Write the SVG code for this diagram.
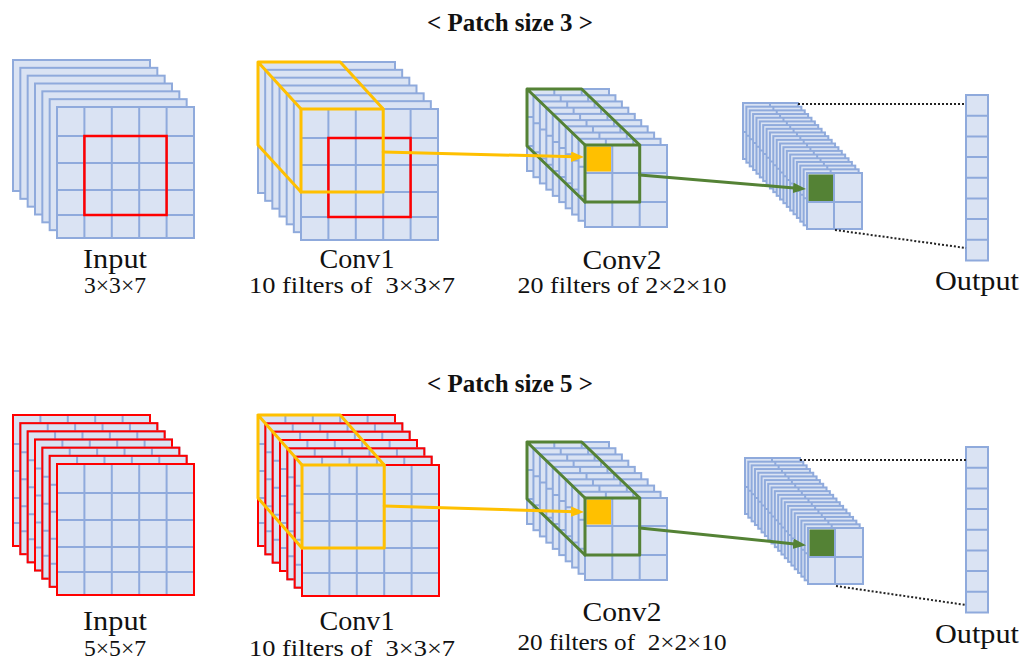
<svg xmlns="http://www.w3.org/2000/svg" width="1024" height="663" viewBox="0 0 1024 663">
<style>
  .cell{fill:#dae3f3;stroke:#8faadc;stroke-width:2}
  .gl{fill:none;stroke:#8faadc;stroke-width:2}
  .rim{fill:none;stroke:#ff0000;stroke-width:2}
  .red{fill:none;stroke:#ff0000;stroke-width:2.5}
  .yel{fill:none;stroke:#ffc000;stroke-width:3;stroke-linejoin:round;stroke-linecap:round}
  .grn{fill:none;stroke:#548235;stroke-width:3;stroke-linejoin:round;stroke-linecap:round}
  .yfill{fill:#ffc000}
  .gfill{fill:#548235}
  .dot{fill:none;stroke:#222;stroke-width:2;stroke-dasharray:2 2}
  text{font-family:"Liberation Serif","Times New Roman",serif;fill:#111;text-anchor:middle}
  .title{font-size:25px;font-weight:bold}
  .name{font-size:28px}
  .dims{font-size:23px}
</style>
<defs>
  <!-- plain feature map slice (5x5 size, no grid) -->
  <g id="s5"><rect class="cell" width="137" height="131"/></g>
  <!-- 5x5 grid slice -->
  <g id="g5">
    <rect class="cell" width="137" height="131"/>
    <path class="gl" d="M27.4,0V131M54.8,0V131M82.2,0V131M109.6,0V131M0,29H137M0,56H137M0,83H137M0,108H137"/>
  </g>
  <!-- 5x5 grid slice with red rim -->
  <g id="g5r">
    <use href="#g5"/>
    <rect class="rim" width="137" height="131"/>
  </g>
  <!-- 3x3 grid slice -->
  <g id="g3">
    <rect class="cell" width="82" height="82"/>
    <path class="gl" d="M27.3,0V82M54.7,0V82M0,28H82M0,57H82"/>
  </g>
  <!-- 2x2 grid slice -->
  <g id="g2">
    <rect class="cell" width="55" height="56"/>
    <path class="gl" d="M27,0V56M0,29H55"/>
  </g>
  <!-- output vector of 8 cells -->
  <g id="col">
    <rect class="cell" width="22" height="165.5"/>
    <path class="gl" d="M0,20.7H22M0,41.4H22M0,62.1H22M0,82.8H22M0,103.4H22M0,124.1H22M0,144.8H22"/>
  </g>
  <marker id="ahY" viewBox="0 0 10 8" refX="3" refY="4" markerWidth="13" markerHeight="10.4" markerUnits="userSpaceOnUse" orient="auto">
    <path d="M0,0L10,4L0,8z" fill="#ffc000"/>
  </marker>
  <marker id="ahG" viewBox="0 0 10 8" refX="3" refY="4" markerWidth="13" markerHeight="10.4" markerUnits="userSpaceOnUse" orient="auto">
    <path d="M0,0L10,4L0,8z" fill="#548235"/>
  </marker>
</defs>

<rect width="1024" height="663" fill="#ffffff"/>

<!-- ===== Patch size 3 ===== -->
<text class="title" x="510" y="31">&lt; Patch size 3 &gt;</text>

<g id="input3">
  <use href="#s5" x="13" y="60"/>
  <use href="#s5" x="20.33" y="67.83"/>
  <use href="#s5" x="27.67" y="75.67"/>
  <use href="#s5" x="35" y="83.5"/>
  <use href="#s5" x="42.33" y="91.33"/>
  <use href="#s5" x="49.67" y="99.17"/>
  <use href="#g5" x="57" y="107"/>
  <rect class="red" x="84.4" y="136" width="82.2" height="79"/>
  <text class="name" x="115" y="268" textLength="64" lengthAdjust="spacingAndGlyphs">Input</text>
  <text class="dims" x="115" y="293" textLength="62" lengthAdjust="spacingAndGlyphs">3×3×7</text>
</g>

<g id="conv1-3">
  <use href="#s5" x="258" y="62"/>
  <use href="#s5" x="265.17" y="69.83"/>
  <use href="#s5" x="272.33" y="77.67"/>
  <use href="#s5" x="279.5" y="85.5"/>
  <use href="#s5" x="286.67" y="93.33"/>
  <use href="#s5" x="293.83" y="101.17"/>
  <use href="#g5" x="301" y="109"/>
  <rect class="red" x="328.4" y="138" width="82.2" height="79"/>
  <path class="yel" d="M258,62H340.2L383.2,109M258,62L301,109M258,62V145L301,192"/>
  <rect class="yel" x="301" y="109" width="82.2" height="83"/>
  <text class="name" x="357" y="268" textLength="75" lengthAdjust="spacingAndGlyphs">Conv1</text>
  <text class="dims" x="352" y="293" textLength="206" lengthAdjust="spacingAndGlyphs">10 filters of &#160;3×3×7</text>
</g>

<g id="conv2-3">
  <use href="#g3" x="527" y="89"/>
  <use href="#g3" x="533.44" y="95.22"/>
  <use href="#g3" x="539.89" y="101.44"/>
  <use href="#g3" x="546.33" y="107.67"/>
  <use href="#g3" x="552.78" y="113.89"/>
  <use href="#g3" x="559.22" y="120.11"/>
  <use href="#g3" x="565.67" y="126.33"/>
  <use href="#g3" x="572.11" y="132.56"/>
  <use href="#g3" x="578.56" y="138.78"/>
  <use href="#g3" x="585" y="145"/>
  <rect class="yfill" x="586.5" y="146.5" width="24.5" height="25"/>
  <path class="grn" d="M527,89H581.7L639.7,145M527,89L585,145M527,89V146L585,202"/>
  <rect class="grn" x="585" y="145" width="54.7" height="57"/>
  <text class="name" x="622" y="269" textLength="79" lengthAdjust="spacingAndGlyphs">Conv2</text>
  <text class="dims" x="622" y="293" textLength="209" lengthAdjust="spacingAndGlyphs">20 filters of 2×2×10</text>
</g>

<g id="conv3-3">
  <use href="#g2" x="743" y="103"/>
  <use href="#g2" x="746.37" y="106.68"/>
  <use href="#g2" x="749.74" y="110.37"/>
  <use href="#g2" x="753.1" y="114.05"/>
  <use href="#g2" x="756.47" y="117.74"/>
  <use href="#g2" x="759.84" y="121.42"/>
  <use href="#g2" x="763.21" y="125.1"/>
  <use href="#g2" x="766.58" y="128.79"/>
  <use href="#g2" x="769.95" y="132.47"/>
  <use href="#g2" x="773.31" y="136.16"/>
  <use href="#g2" x="776.68" y="139.84"/>
  <use href="#g2" x="780.05" y="143.52"/>
  <use href="#g2" x="783.42" y="147.21"/>
  <use href="#g2" x="786.79" y="150.89"/>
  <use href="#g2" x="790.16" y="154.58"/>
  <use href="#g2" x="793.52" y="158.26"/>
  <use href="#g2" x="796.89" y="161.94"/>
  <use href="#g2" x="800.26" y="165.63"/>
  <use href="#g2" x="803.63" y="169.31"/>
  <use href="#g2" x="807" y="173"/>
  <rect class="gfill" x="808.5" y="174.5" width="24.5" height="26.5"/>
</g>

<g id="output3">
  <use href="#col" x="966" y="95"/>
  <text class="name" x="977" y="290" textLength="84" lengthAdjust="spacingAndGlyphs">Output</text>
</g>

<!-- ===== Patch size 5 ===== -->
<text class="title" x="510" y="392">&lt; Patch size 5 &gt;</text>

<g id="input5">
  <use href="#g5r" x="13" y="415"/>
  <use href="#g5r" x="20.33" y="423.17"/>
  <use href="#g5r" x="27.67" y="431.33"/>
  <use href="#g5r" x="35" y="439.5"/>
  <use href="#g5r" x="42.33" y="447.67"/>
  <use href="#g5r" x="49.67" y="455.83"/>
  <use href="#g5r" x="57" y="464"/>
  <text class="name" x="115" y="630" textLength="64" lengthAdjust="spacingAndGlyphs">Input</text>
  <text class="dims" x="115" y="656" textLength="62" lengthAdjust="spacingAndGlyphs">5×5×7</text>
</g>

<g id="conv1-5">
  <use href="#g5r" x="258" y="415"/>
  <use href="#g5r" x="265.33" y="423.33"/>
  <use href="#g5r" x="272.67" y="431.67"/>
  <use href="#g5r" x="280" y="440"/>
  <use href="#g5r" x="287.33" y="448.33"/>
  <use href="#g5r" x="294.67" y="456.67"/>
  <use href="#g5r" x="302" y="465"/>
  <path class="yel" d="M258,415H340.2L384.2,465M258,415L302,465M258,415V498L302,548"/>
  <rect class="yel" x="302" y="465" width="82.2" height="83"/>
  <text class="name" x="357" y="630" textLength="75" lengthAdjust="spacingAndGlyphs">Conv1</text>
  <text class="dims" x="352" y="656" textLength="206" lengthAdjust="spacingAndGlyphs">10 filters of &#160;3×3×7</text>
</g>

<g id="conv2-5">
  <use href="#g3" x="527" y="442"/>
  <use href="#g3" x="533.44" y="448.22"/>
  <use href="#g3" x="539.89" y="454.44"/>
  <use href="#g3" x="546.33" y="460.67"/>
  <use href="#g3" x="552.78" y="466.89"/>
  <use href="#g3" x="559.22" y="473.11"/>
  <use href="#g3" x="565.67" y="479.33"/>
  <use href="#g3" x="572.11" y="485.56"/>
  <use href="#g3" x="578.56" y="491.78"/>
  <use href="#g3" x="585" y="498"/>
  <rect class="yfill" x="586.5" y="499.5" width="24.5" height="25"/>
  <path class="grn" d="M527,442H581.7L639.7,498M527,442L585,498M527,442V499L585,555"/>
  <rect class="grn" x="585" y="498" width="54.7" height="57"/>
  <text class="name" x="622" y="621" textLength="79" lengthAdjust="spacingAndGlyphs">Conv2</text>
  <text class="dims" x="622" y="650" textLength="209" lengthAdjust="spacingAndGlyphs">20 filters of &#160;2×2×10</text>
</g>

<g id="conv3-5">
  <use href="#g2" x="745" y="458"/>
  <use href="#g2" x="748.32" y="461.68"/>
  <use href="#g2" x="751.63" y="465.37"/>
  <use href="#g2" x="754.95" y="469.05"/>
  <use href="#g2" x="758.26" y="472.74"/>
  <use href="#g2" x="761.58" y="476.42"/>
  <use href="#g2" x="764.89" y="480.1"/>
  <use href="#g2" x="768.21" y="483.79"/>
  <use href="#g2" x="771.53" y="487.47"/>
  <use href="#g2" x="774.84" y="491.16"/>
  <use href="#g2" x="778.16" y="494.84"/>
  <use href="#g2" x="781.47" y="498.52"/>
  <use href="#g2" x="784.79" y="502.21"/>
  <use href="#g2" x="788.11" y="505.89"/>
  <use href="#g2" x="791.42" y="509.58"/>
  <use href="#g2" x="794.74" y="513.26"/>
  <use href="#g2" x="798.05" y="516.94"/>
  <use href="#g2" x="801.37" y="520.63"/>
  <use href="#g2" x="804.68" y="524.31"/>
  <use href="#g2" x="808" y="528"/>
  <rect class="gfill" x="809.5" y="529.5" width="24.5" height="26.5"/>
</g>

<g id="output5">
  <use href="#col" x="966" y="447"/>
  <text class="name" x="977" y="643" textLength="84" lengthAdjust="spacingAndGlyphs">Output</text>
</g>

<!-- connectors -->
<g id="connectors">
  <line class="yel" x1="383.2" y1="152" x2="575" y2="156.8" marker-end="url(#ahY)"/>
  <line class="grn" x1="639.7" y1="175" x2="797" y2="188.2" marker-end="url(#ahG)"/>
  <line class="dot" x1="798" y1="104" x2="966" y2="104"/>
  <line class="dot" x1="835" y1="230" x2="966" y2="248"/>

  <line class="yel" x1="384.2" y1="506" x2="575" y2="511.8" marker-end="url(#ahY)"/>
  <line class="grn" x1="639.7" y1="528" x2="797" y2="544.2" marker-end="url(#ahG)"/>
  <line class="dot" x1="800" y1="460" x2="966" y2="460"/>
  <line class="dot" x1="836" y1="586" x2="966" y2="605"/>
</g>
</svg>
